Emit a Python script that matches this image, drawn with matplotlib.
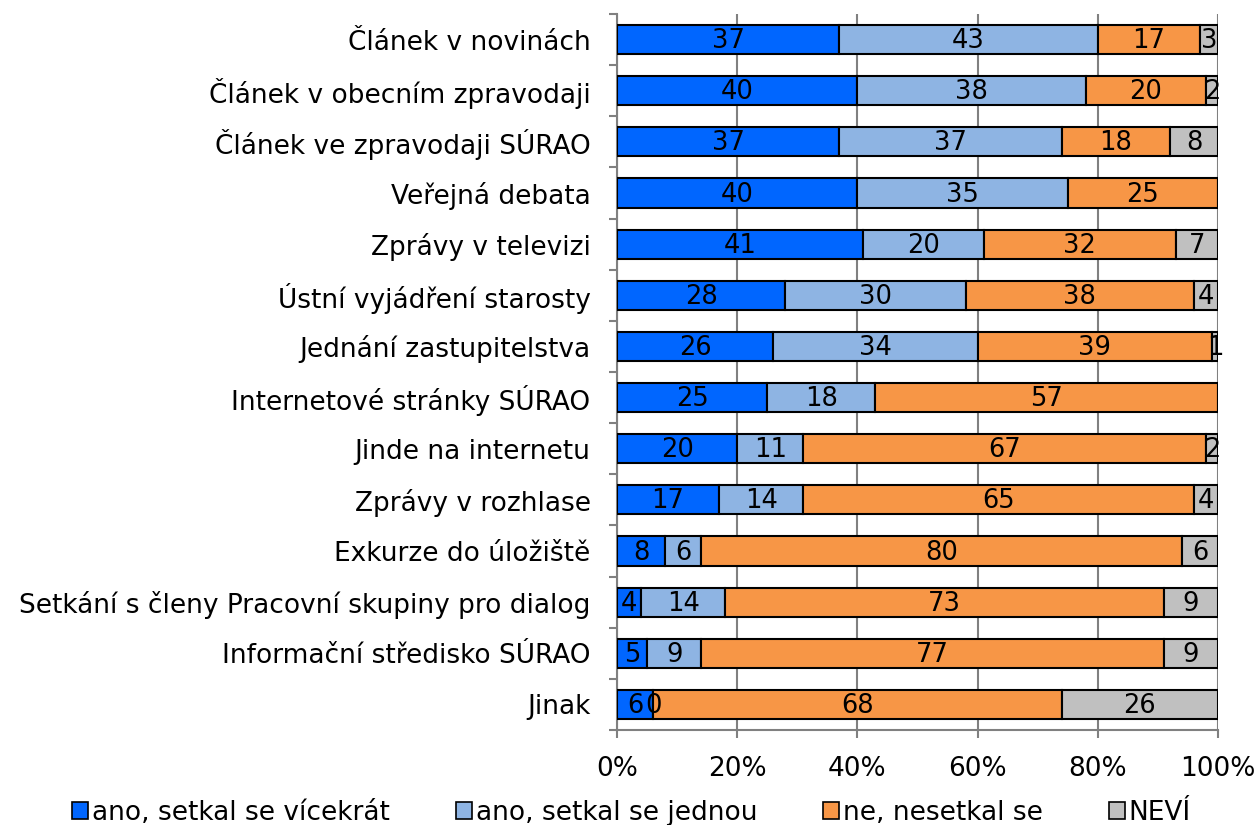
import numpy as np
from matplotlib import pyplot as plt
from matplotlib.ticker import PercentFormatter

plt.rcParams['font.family'] = ['DejaVu Sans']

# Categories, top to bottom
categories = [
    'Článek v novinách',
    'Článek v obecním zpravodaji',
    'Článek ve zpravodaji SÚRAO',
    'Veřejná debata',
    'Zprávy v televizi',
    'Ústní vyjádření starosty',
    'Jednání zastupitelstva',
    'Internetové stránky SÚRAO',
    'Jinde na internetu',
    'Zprávy v rozhlase',
    'Exkurze do úložiště',
    'Setkání s členy Pracovní skupiny pro dialog',
    'Informační středisko SÚRAO',
    'Jinak',
]

# Shares in percent; None = no answer in that group
ano_vicekrat = [37, 40, 37, 40, 41, 28, 26, 25, 20, 17, 8, 4, 5, 6]
ano_jednou = [43, 38, 37, 35, 20, 30, 34, 18, 11, 14, 6, 14, 9, 0]
ne = [17, 20, 18, 25, 32, 38, 39, 57, 67, 65, 80, 73, 77, 68]
nevi = [3, 2, 8, None, 7, 4, 1, None, 2, 4, 6, 9, 9, 26]

series = [ano_vicekrat, ano_jednou, ne, nevi]
series_names = ['ano, setkal se vícekrát', 'ano, setkal se jednou',
                'ne, nesetkal se', 'NEVÍ']
colors = ['#0066FF', '#8EB4E3', '#F79646', '#C0C0C0']

fig = plt.figure(figsize=(12.58, 8.25), dpi=100)
ax = fig.add_axes([617/1258, 1 - 730/825, 601/1258, 716/825])

y = np.arange(len(categories))
left = np.zeros(len(categories))
handles = []
for vals, name, col in zip(series, series_names, colors):
    v = np.array([0 if x is None else x for x in vals], dtype=float)
    bars = ax.barh(y, v, left=left, height=0.57, color=col,
                   edgecolor='black', linewidth=1.5, label=name, zorder=3)
    handles.append(bars)
    for yi, (x, l) in enumerate(zip(vals, left)):
        if x is None:
            continue
        ax.text(l + x / 2, yi + 0.03, str(x), ha='center', va='center',
                fontsize=18.5, color='black', zorder=4)
    left += v

ax.set_xlim(0, 100)
ax.set_ylim(len(categories) - 0.5, -0.5)
ax.set_yticks(y)
ax.set_yticklabels(categories, fontsize=19)
ax.set_yticks(np.arange(-0.5, len(categories)), minor=True)
ax.tick_params(axis='y', which='major', length=0, pad=19)
ax.tick_params(axis='y', which='minor', length=6, color='#808080', width=1.5)

ax.set_xticks(np.arange(0, 101, 20))
ax.xaxis.set_major_formatter(PercentFormatter(decimals=0))
ax.tick_params(axis='x', labelsize=19, length=6, color='#808080', width=1.5, pad=13)
ax.grid(axis='x', color='#808080', linewidth=1.5, zorder=0)

for side in ['top', 'right']:
    ax.spines[side].set_visible(False)
for side in ['left', 'bottom']:
    ax.spines[side].set_color('#808080')
    ax.spines[side].set_linewidth(1.5)

leg = fig.legend(handles=handles, loc='lower center', ncol=4, frameon=False,
                 fontsize=19, bbox_to_anchor=(0.502, -0.03), handlelength=0.6,
                 handleheight=0.6, handletextpad=0.15, columnspacing=2.5)
for h in leg.legend_handles:
    h.set_linewidth(1.2)

fig.savefig('out.png', dpi=100)
